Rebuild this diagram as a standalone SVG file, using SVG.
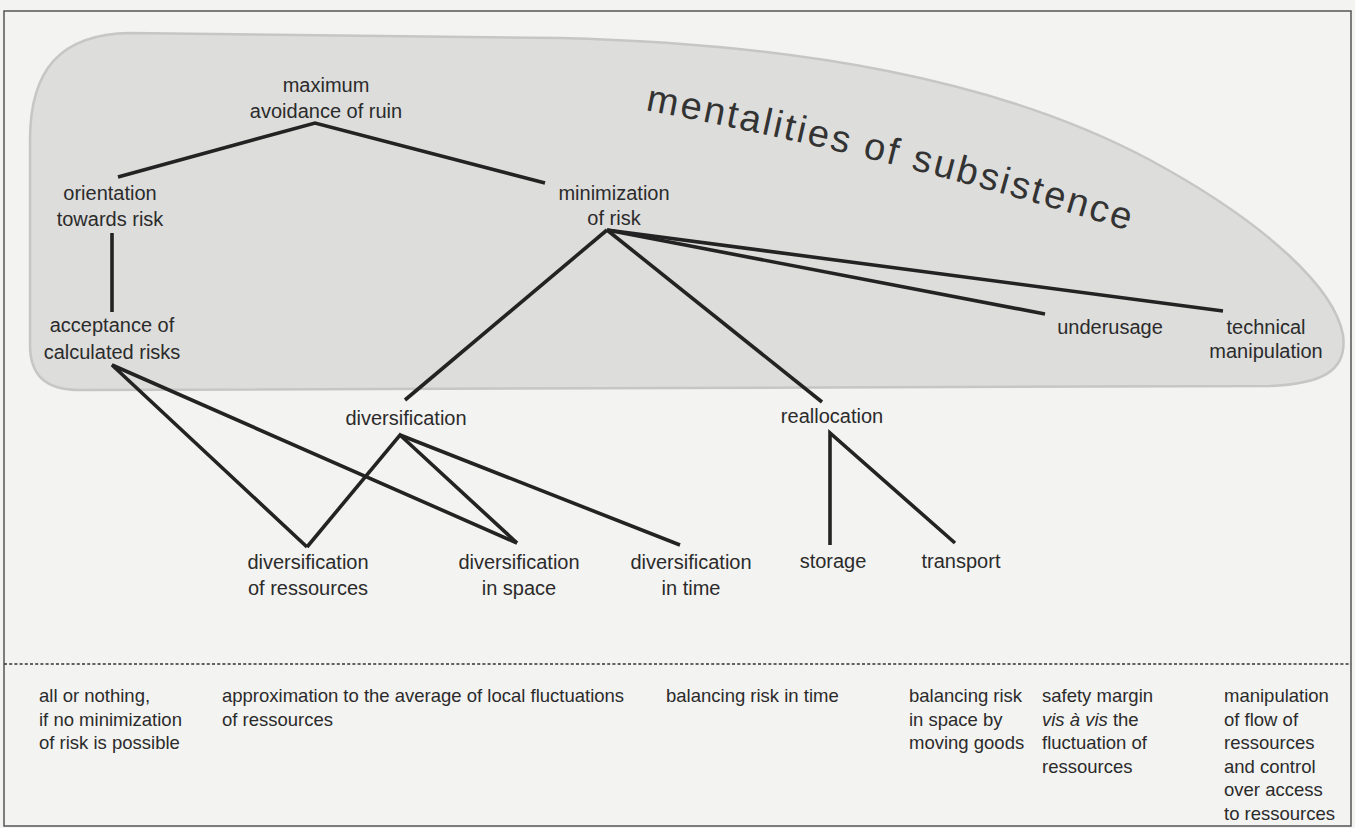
<svg xmlns="http://www.w3.org/2000/svg" width="1355" height="828" viewBox="0 0 1355 828">
<style>
  .lbl { font-family: "Liberation Sans", Arial, sans-serif; font-size: 20px; fill: #2b2b2b; text-anchor: middle; }
  .bot { font-family: "Liberation Sans", Arial, sans-serif; font-size: 18.5px; fill: #2b2b2b; }
  .title { font-family: "Liberation Sans", Arial, sans-serif; font-size: 38px; fill: #333; letter-spacing: 2.5px; }
  .edge { stroke: #232323; stroke-width: 3.6; fill: none; stroke-linecap: butt; stroke-linejoin: miter; }
</style>
<defs>
  <path id="titlePath" d="M 645,110 Q 905,160 1145,236"/>
</defs>
<rect x="0" y="0" width="1355" height="828" fill="#f3f3f1"/>
<rect x="4" y="11" width="1347" height="815" fill="none" stroke="#555" stroke-width="1.5"/>

<g id="mentalities-of-subsistence">
  <path d="M 30,140 C 30,70 60,34 130,33 L 560,38 C 800,44 1000,80 1150,160 C 1270,225 1335,290 1343,335 C 1348,372 1320,384 1270,386 L 80,390 C 45,390 30,375 30,345 Z" fill="#dddddc" stroke="#c6c6c5" stroke-width="2.5"/>
  <text class="title"><textPath href="#titlePath" startOffset="0">mentalities</textPath></text>
  <text class="title"><textPath href="#titlePath" startOffset="222">of</textPath></text>
  <text class="title"><textPath href="#titlePath" startOffset="272">subsistence</textPath></text>
</g>

<g id="connectors">
  <polyline class="edge" points="118,177 315,123 545,183"/>
  <line class="edge" x1="112" y1="233" x2="112" y2="312"/>
  <line class="edge" x1="607" y1="230" x2="405" y2="400"/>
  <line class="edge" x1="607" y1="230" x2="822" y2="402"/>
  <line class="edge" x1="607" y1="230" x2="1045" y2="314"/>
  <line class="edge" x1="607" y1="230" x2="1223" y2="311"/>
  <polyline class="edge" points="307,547 400,435 517,543"/>
  <line class="edge" x1="400" y1="435" x2="680" y2="545"/>
  <polyline class="edge" points="307,547 112,365 517,543"/>
  <polyline class="edge" points="830,545 830,433 955,543"/>
  <line x1="4" y1="664" x2="1351" y2="664" stroke="#333" stroke-width="1.6" stroke-dasharray="3,2.2"/>
</g>

<g id="maximum-avoidance-of-ruin">
  <text class="lbl" x="326" y="92">maximum</text>
  <text class="lbl" x="326" y="118">avoidance of ruin</text>
</g>
<g id="orientation-towards-risk">
  <text class="lbl" x="110" y="200">orientation</text>
  <text class="lbl" x="110" y="226">towards risk</text>
</g>
<g id="acceptance-of-calculated-risks">
  <text class="lbl" x="112" y="332">acceptance of</text>
  <text class="lbl" x="112" y="359">calculated risks</text>
</g>
<g id="minimization-of-risk">
  <text class="lbl" x="614" y="200">minimization</text>
  <text class="lbl" x="614" y="225">of risk</text>
</g>
<g id="underusage">
  <text class="lbl" x="1110" y="334">underusage</text>
</g>
<g id="technical-manipulation">
  <text class="lbl" x="1266" y="334">technical</text>
  <text class="lbl" x="1266" y="358">manipulation</text>
</g>
<g id="diversification">
  <text class="lbl" x="406" y="425">diversification</text>
</g>
<g id="reallocation">
  <text class="lbl" x="832" y="423">reallocation</text>
</g>
<g id="diversification-of-ressources">
  <text class="lbl" x="308" y="569">diversification</text>
  <text class="lbl" x="308" y="595">of ressources</text>
</g>
<g id="diversification-in-space">
  <text class="lbl" x="519" y="569">diversification</text>
  <text class="lbl" x="519" y="595">in space</text>
</g>
<g id="diversification-in-time">
  <text class="lbl" x="691" y="569">diversification</text>
  <text class="lbl" x="691" y="595">in time</text>
</g>
<g id="storage">
  <text class="lbl" x="833" y="568">storage</text>
</g>
<g id="transport">
  <text class="lbl" x="961" y="568">transport</text>
</g>

<g id="legend-all-or-nothing">
  <text class="bot" x="39" y="702">all or nothing,</text>
  <text class="bot" x="39" y="725.5">if no minimization</text>
  <text class="bot" x="39" y="749">of risk is possible</text>
</g>
<g id="legend-approximation">
  <text class="bot" x="222" y="702">approximation to the average of local fluctuations</text>
  <text class="bot" x="222" y="725.5">of ressources</text>
</g>
<g id="legend-balancing-time">
  <text class="bot" x="666" y="702">balancing risk in time</text>
</g>
<g id="legend-balancing-space">
  <text class="bot" x="909" y="702">balancing risk</text>
  <text class="bot" x="909" y="725.5">in space by</text>
  <text class="bot" x="909" y="749">moving goods</text>
</g>
<g id="legend-safety-margin">
  <text class="bot" x="1042" y="702">safety margin</text>
  <text class="bot" x="1042" y="725.5"><tspan font-style="italic">vis à vis</tspan> the</text>
  <text class="bot" x="1042" y="749">fluctuation of</text>
  <text class="bot" x="1042" y="772.5">ressources</text>
</g>
<g id="legend-manipulation">
  <text class="bot" x="1224" y="702">manipulation</text>
  <text class="bot" x="1224" y="725.5">of flow of</text>
  <text class="bot" x="1224" y="749">ressources</text>
  <text class="bot" x="1224" y="772.5">and control</text>
  <text class="bot" x="1224" y="796">over access</text>
  <text class="bot" x="1224" y="819.5">to ressources</text>
</g>
</svg>
